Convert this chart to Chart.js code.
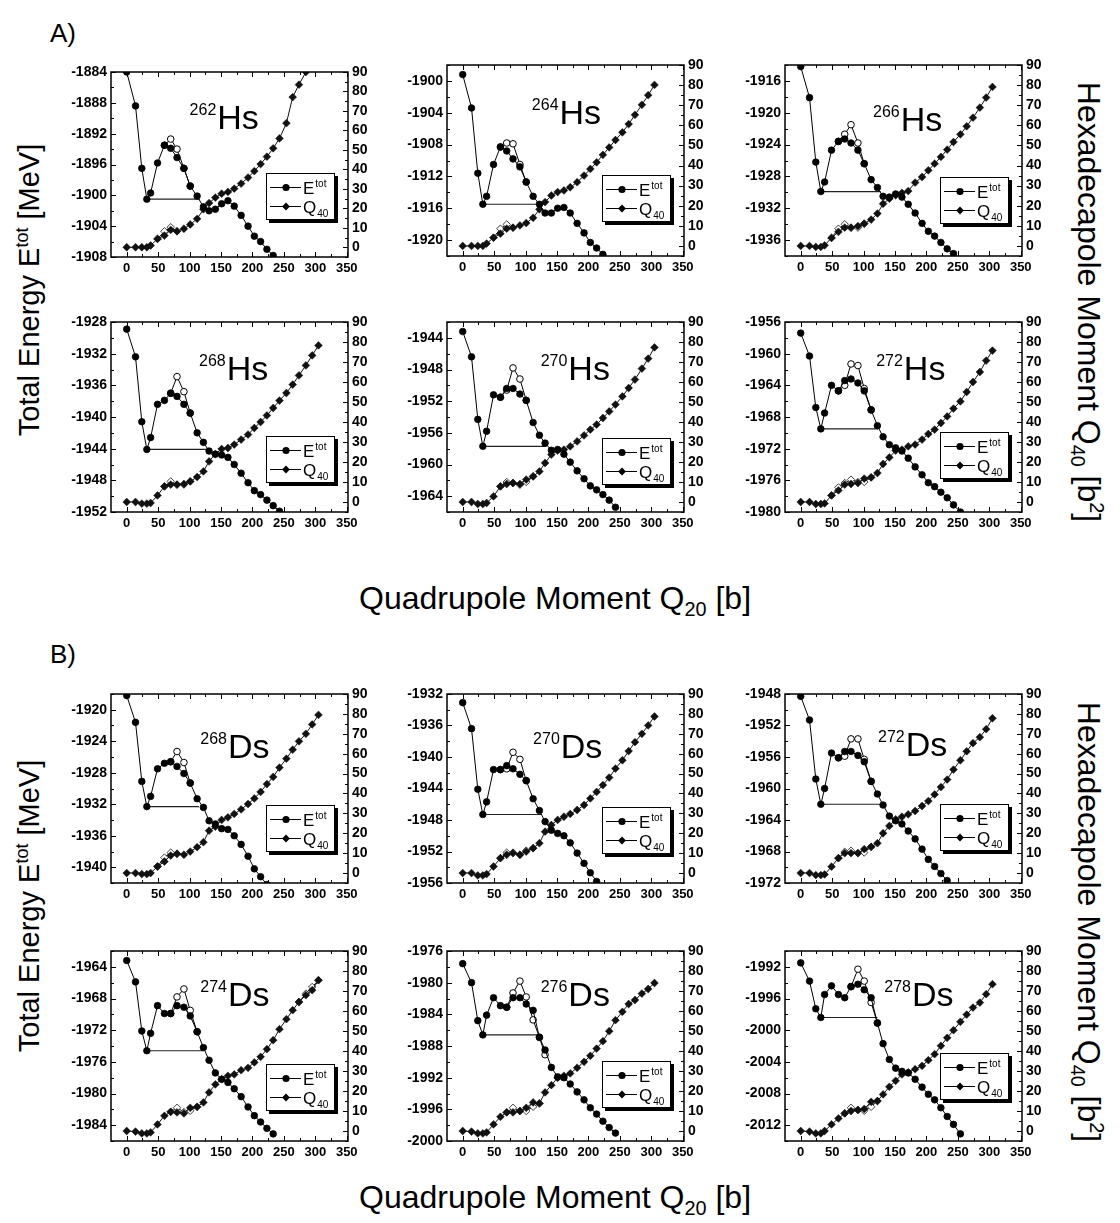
<!DOCTYPE html>
<html>
<head>
<meta charset="utf-8">
<title>Hs and Ds energy curves</title>
<script src="https://cdn.jsdelivr.net/npm/chart.js@4.4.1/dist/chart.umd.min.js"></script>
<style>
  html, body { margin: 0; padding: 0; background: #fff; }
  #page { position: relative; width: 1120px; height: 1223px; overflow: hidden; font-family: Arial, "Liberation Sans", Helvetica, sans-serif; color: #000; }
  #page canvas { position: absolute; }
  .t { position: absolute; white-space: nowrap; line-height: 1; }
  .vl { transform: translate(-50%, -50%) rotate(-90deg); font-size: 29px; }
  .vr { transform: translate(-50%, -50%) rotate(90deg); font-size: 32px; }
  .hc { transform: translateX(-50%); font-size: 32px; }
  sup, sub { font-size: 0.62em; line-height: 0; }
</style>
</head>
<body>
<div id="page">
  <div class="t" style="left:50px; top:20px; font-size:26px;">A)</div>
  <div class="t" style="left:50px; top:641px; font-size:26px;">B)</div>
  <div class="t vl" style="left:29px; top:290px;">Total Energy E<sup>tot</sup> [MeV]</div>
  <div class="t vl" style="left:29px; top:906px;">Total Energy E<sup>tot</sup> [MeV]</div>
  <div class="t vr" style="left:1089px; top:302px;">Hexadecapole Moment Q<sub>40</sub> [b<sup>2</sup>]</div>
  <div class="t vr" style="left:1089px; top:922px;">Hexadecapole Moment Q<sub>40</sub> [b<sup>2</sup>]</div>
  <div class="t hc" style="left:555px; top:582px;">Quadrupole Moment Q<sub>20</sub> [b]</div>
  <div class="t hc" style="left:555px; top:1181px;">Quadrupole Moment Q<sub>20</sub> [b]</div>
</div>
<script>
// quadrupole moment grid shared by all curves
const Q20 = [0, 14, 24, 32, 38, 49, 60, 70, 80, 91, 101, 112, 122, 131, 141, 151, 161, 171, 182, 193, 203, 213, 223, 233, 243, 254, 264, 274, 285, 295, 305];

const X_TICKS = [0, 50, 100, 150, 200, 250, 300, 350];
const Q40_TICKS = [0, 10, 20, 30, 40, 50, 60, 70, 80, 90];

const masses = ['262', '264', '266', '268', '270', '272', '268', '270', '272', '274', '276', '278'];
const elements = ['Hs', 'Hs', 'Hs', 'Hs', 'Hs', 'Hs', 'Ds', 'Ds', 'Ds', 'Ds', 'Ds', 'Ds'];

// total energy (filled circles), MeV
const E_Hs262 = [-1884.0, -1888.4, -1896.5, -1900.5, -1899.7, -1895.8, -1893.5, -1893.9, -1895.1, -1896.5, -1898.8, -1900.1, -1901.5, -1902.0, -1901.8, -1901.1, -1900.7, -1901.4, -1902.6, -1904.0, -1905.3, -1906.0, -1907.0, -1907.8];
const E_Hs264 = [-1899.2, -1903.4, -1911.6, -1915.5, -1914.5, -1910.5, -1908.3, -1908.8, -1909.8, -1910.8, -1912.7, -1914.5, -1915.5, -1916.6, -1916.6, -1916.0, -1915.9, -1916.6, -1917.9, -1919.1, -1920.3, -1921.0, -1921.8];
const E_Hs266 = [-1914.2, -1918.1, -1926.2, -1929.9, -1928.7, -1924.7, -1923.6, -1923.3, -1923.8, -1924.7, -1926.4, -1928.4, -1929.4, -1930.5, -1930.6, -1930.2, -1930.6, -1931.5, -1932.6, -1933.9, -1934.9, -1935.5, -1936.3, -1937.1, -1937.7];
const E_Hs268 = [-1928.9, -1932.4, -1940.6, -1944.1, -1942.6, -1938.4, -1937.9, -1937.0, -1937.4, -1938.4, -1939.5, -1942.0, -1943.2, -1944.3, -1944.7, -1944.8, -1945.1, -1946.0, -1947.1, -1948.3, -1949.3, -1949.8, -1950.5, -1951.2, -1951.9];
const E_Hs270 = [-1943.2, -1946.4, -1954.3, -1957.7, -1955.8, -1951.2, -1951.5, -1950.4, -1950.4, -1951.1, -1951.9, -1954.7, -1956.3, -1957.3, -1958.2, -1958.1, -1958.7, -1959.7, -1960.8, -1961.8, -1962.7, -1963.2, -1963.8, -1964.5, -1965.4];
const E_Hs272 = [-1957.4, -1960.3, -1966.8, -1969.5, -1967.5, -1964.0, -1964.7, -1963.4, -1963.2, -1963.7, -1964.7, -1967.1, -1969.1, -1970.5, -1971.5, -1971.9, -1972.3, -1973.2, -1974.3, -1975.3, -1976.3, -1976.8, -1977.5, -1978.2, -1979.1, -1980.0];
const E_Ds268 = [-1918.2, -1921.6, -1929.1, -1932.3, -1931.0, -1927.5, -1926.8, -1926.6, -1927.2, -1928.1, -1929.3, -1931.3, -1932.4, -1934.1, -1934.5, -1935.1, -1935.2, -1936.0, -1937.1, -1938.6, -1940.2, -1941.2, -1942.2];
const E_Ds270 = [-1933.1, -1936.4, -1944.1, -1947.3, -1945.7, -1941.6, -1941.6, -1941.1, -1941.5, -1942.2, -1943.0, -1945.3, -1946.8, -1948.2, -1949.3, -1949.7, -1950.0, -1950.9, -1952.2, -1953.5, -1954.7, -1955.8];
const E_Ds272 = [-1948.3, -1951.3, -1958.8, -1962.0, -1960.0, -1955.5, -1956.1, -1955.3, -1955.3, -1955.8, -1956.6, -1959.1, -1960.7, -1962.1, -1963.5, -1964.1, -1964.5, -1965.4, -1966.4, -1967.7, -1969.0, -1969.9, -1970.8, -1971.7];
const E_Ds274 = [-1963.2, -1965.9, -1972.1, -1974.6, -1972.4, -1968.9, -1969.9, -1969.9, -1968.9, -1969.1, -1970.2, -1972.2, -1974.2, -1975.8, -1977.4, -1978.2, -1978.6, -1979.4, -1980.4, -1981.7, -1982.8, -1983.6, -1984.4, -1985.1];
const E_Ds276 = [-1977.6, -1980.0, -1984.8, -1986.6, -1984.1, -1981.9, -1982.9, -1983.1, -1981.9, -1981.9, -1982.7, -1983.5, -1986.9, -1988.5, -1990.7, -1991.9, -1992.0, -1992.8, -1993.8, -1994.8, -1995.8, -1996.6, -1997.5, -1998.3, -1999.0];
const E_Ds278 = [-1991.5, -1993.8, -1997.3, -1998.4, -1995.5, -1994.4, -1995.5, -1995.9, -1994.5, -1994.2, -1994.9, -1995.9, -1999.1, -2001.7, -2003.7, -2004.8, -2005.2, -2005.4, -2006.2, -2007.2, -2008.1, -2008.8, -2009.8, -2010.9, -2011.9, -2013.1];

// total energy, second solution near the barrier (open circles): [grid index, MeV]
const EO_Hs262 = [[6, -1893.5], [7, -1892.7], [8, -1894.0], [9, -1896.5], [10, -1898.8]];
const EO_Hs264 = [[6, -1908.3], [7, -1907.8], [8, -1907.9], [9, -1910.5], [10, -1912.7]];
const EO_Hs266 = [[6, -1923.6], [7, -1922.7], [8, -1921.5], [9, -1923.8], [10, -1926.4]];
const EO_Hs268 = [[7, -1937.0], [8, -1934.9], [9, -1936.8], [10, -1939.5]];
const EO_Hs270 = [[6, -1951.5], [7, -1950.6], [8, -1947.8], [9, -1949.2], [10, -1951.9]];
const EO_Hs272 = [[6, -1964.7], [7, -1964.0], [8, -1961.3], [9, -1961.5], [10, -1964.4], [11, -1967.1]];
const EO_Ds268 = [[7, -1926.6], [8, -1925.3], [9, -1926.7], [10, -1929.3]];
const EO_Ds270 = [[6, -1941.6], [7, -1941.5], [8, -1939.4], [9, -1940.3], [10, -1943.0]];
const EO_Ds272 = [[6, -1956.1], [7, -1955.9], [8, -1953.7], [9, -1953.7], [10, -1956.3], [11, -1959.1]];
const EO_Ds274 = [[7, -1969.9], [8, -1967.8], [9, -1966.8], [10, -1969.5], [11, -1972.2]];
const EO_Ds276 = [[7, -1983.1], [8, -1981.3], [9, -1979.8], [10, -1981.8], [11, -1984.7], [12, -1986.9], [13, -1989.1]];
const EO_Ds278 = [[8, -1994.5], [9, -1992.3], [10, -1993.8], [11, -1996.5], [12, -1999.1]];

// hexadecapole moment (filled diamonds), b^2
const Q_Hs262 = [0, 0, 0, 0, 0.9, 4.3, 6.0, 8.9, 8.2, 9.5, 11.7, 14.6, 19.5, 22.7, 25.5, 27.5, 28.4, 30.1, 32.7, 35.8, 39.1, 42.7, 46.5, 50.8, 55.9, 63.7, 77.1, 83.5, 90.0];
const Q_Hs264 = [0, 0, 0, 0, 1.2, 4.1, 6.1, 8.6, 9.1, 10.2, 11.4, 14.0, 18.2, 21.8, 25.1, 26.8, 27.6, 29.2, 31.7, 35.0, 38.3, 41.6, 45.3, 49.0, 52.7, 56.5, 60.6, 65.2, 70.2, 75.0, 80.1];
const Q_Hs266 = [0, 0, -0.5, -0.5, 0.3, 4.0, 7.0, 9.1, 9.1, 9.9, 11.1, 13.1, 16.1, 21.0, 23.5, 25.2, 26.4, 27.3, 31.5, 34.3, 37.6, 40.9, 44.3, 47.9, 51.7, 55.5, 59.5, 63.8, 68.8, 73.8, 79.1];
const Q_Hs268 = [0, 0, -0.8, -0.8, -0.5, 3.3, 7.8, 8.7, 8.7, 9.0, 10.3, 12.5, 15.3, 20.3, 24.0, 26.5, 27.0, 28.7, 31.2, 33.7, 37.0, 40.0, 43.3, 47.0, 50.7, 54.5, 58.7, 63.3, 68.3, 73.3, 78.3];
const Q_Hs270 = [0, 0, -1.0, -1.0, -0.5, 2.8, 7.8, 9.0, 9.5, 9.0, 11.2, 12.8, 15.3, 19.5, 23.7, 25.7, 26.2, 27.8, 30.3, 33.3, 36.2, 38.7, 42.0, 45.3, 48.7, 52.8, 57.0, 61.2, 66.7, 71.7, 77.3];
const Q_Hs272 = [0, 0, -1.0, -1.0, -0.7, 3.3, 5.8, 8.7, 9.0, 9.5, 11.7, 12.3, 14.5, 19.0, 22.3, 25.7, 26.2, 27.8, 28.7, 31.2, 34.0, 36.2, 39.5, 42.8, 46.7, 50.3, 55.0, 60.0, 65.0, 70.7, 75.7];
const Q_Ds268 = [0, 0, -0.5, -0.5, 0, 3.3, 5.8, 8.8, 9.7, 9.2, 10.8, 13.0, 15.5, 21.3, 23.3, 26.7, 28.0, 29.7, 32.0, 34.7, 37.5, 40.8, 44.7, 48.3, 53.0, 57.5, 62.0, 66.2, 70.0, 74.7, 79.5];
const Q_Ds270 = [0, 0, -1.2, -1.2, -0.5, 3.3, 7.5, 9.2, 10.0, 9.2, 10.8, 12.5, 15.0, 20.8, 24.2, 26.7, 28.3, 29.7, 31.7, 34.2, 37.5, 40.8, 44.2, 48.0, 52.5, 56.7, 61.3, 65.8, 70.0, 74.2, 78.7];
const Q_Ds272 = [0, 0, -1.0, -1.0, -0.7, 3.2, 7.5, 10.0, 10.0, 10.0, 12.0, 13.2, 15.0, 20.0, 23.7, 27.0, 28.3, 29.5, 31.2, 33.7, 36.2, 39.5, 43.2, 47.0, 52.0, 56.7, 61.2, 65.3, 68.3, 72.3, 77.8];
const Q_Ds274 = [0, -0.3, -1.2, -1.2, -0.7, 3.3, 7.6, 9.6, 9.3, 8.8, 11.6, 12.1, 14.3, 19.3, 23.3, 25.9, 27.6, 28.3, 30.4, 31.6, 34.3, 37.1, 40.9, 45.4, 50.9, 55.9, 60.4, 64.5, 67.9, 70.4, 75.4];
const Q_Ds276 = [0, -0.3, -1.2, -1.2, -0.7, 3.3, 7.1, 9.3, 9.3, 10.0, 11.6, 14.3, 13.8, 19.3, 22.9, 26.6, 27.6, 28.8, 31.6, 34.6, 37.6, 41.2, 44.9, 49.9, 55.4, 59.6, 63.5, 65.5, 68.7, 71.0, 74.0];
const Q_Ds278 = [0, -0.3, -1.2, -1.2, 0, 3.3, 6.3, 8.8, 10.0, 10.5, 11.0, 14.6, 15.0, 18.3, 22.1, 25.1, 28.3, 29.3, 30.9, 32.6, 35.4, 38.4, 42.6, 46.6, 50.4, 54.6, 58.2, 61.7, 64.2, 68.4, 73.4];

// hexadecapole moment, second solution (open diamonds); null breaks the line
const QO_Hs262 = [[5, 4.3], [6, 8.2], [7, 10.3], [8, 8.2]];
const QO_Hs264 = [[5, 4.1], [6, 8.6], [7, 10.7], [8, 9.1]];
const QO_Hs266 = [[5, 4.0], [6, 8.6], [7, 10.8], [8, 9.1], [9, 9.1], [10, 11.1]];
const QO_Hs268 = [[6, 7.8], [7, 10.3], [8, 8.7], [9, 8.7], [10, 10.3]];
const QO_Hs270 = [[6, 7.8], [7, 10.0], [8, 9.5], [9, 8.6], [10, 10.0], [11, 12.8]];
const QO_Hs272 = [[5, 3.3], [6, 7.3], [7, 9.5], [8, 11.2], [9, 10.0], [10, 10.0], [11, 12.3]];
const QO_Ds268 = [[5, 3.3], [6, 7.8], [7, 10.3], [8, 9.7]];
const QO_Ds270 = [[6, 7.5], [7, 10.3], [8, 10.3], [9, 9.2], [10, 11.3], [11, 12.5]];
const QO_Ds272 = [[6, 7.5], [7, 10.7], [8, 11.2], [9, 10.0], [10, 10.3], [11, 13.2]];
const QO_Ds274 = [[7, 9.6], [8, 11.6], [9, 9.5], [10, 10.1], [11, 12.1], null, [27, 64.5], [28, 68.7], [29, 72.0], [30, 75.4]];
const QO_Ds276 = [[7, 9.3], [8, 11.6], [9, 10.0], [10, 10.0], [11, 12.1], [12, 13.8]];
const QO_Ds278 = [[7, 8.8], [8, 11.6], [9, 10.5], [10, 10.1], [11, 12.1], [12, 15.0]];

// fission barrier reference line: energy of the minimum and where it ends
const barrierE = [-1900.5, -1915.5, -1929.9, -1944.1, -1957.7, -1969.5, -1932.3, -1947.3, -1962.0, -1974.6, -1986.6, -1998.4];
const barrierEnd = [116, 117, 127, 126, 133, 123, 115, 125, 132, 121, 120, 122];

const series = [
  [E_Hs262, EO_Hs262, Q_Hs262, QO_Hs262],
  [E_Hs264, EO_Hs264, Q_Hs264, QO_Hs264],
  [E_Hs266, EO_Hs266, Q_Hs266, QO_Hs266],
  [E_Hs268, EO_Hs268, Q_Hs268, QO_Hs268],
  [E_Hs270, EO_Hs270, Q_Hs270, QO_Hs270],
  [E_Hs272, EO_Hs272, Q_Hs272, QO_Hs272],
  [E_Ds268, EO_Ds268, Q_Ds268, QO_Ds268],
  [E_Ds270, EO_Ds270, Q_Ds270, QO_Ds270],
  [E_Ds272, EO_Ds272, Q_Ds272, QO_Ds272],
  [E_Ds274, EO_Ds274, Q_Ds274, QO_Ds274],
  [E_Ds276, EO_Ds276, Q_Ds276, QO_Ds276],
  [E_Ds278, EO_Ds278, Q_Ds278, QO_Ds278]
];

// plot boxes on the page (px) and energy window of each panel
const layout = [
  { left: 111, top: 72, h: 185, ymin: -1908, ymax: -1884, lx: 100, ly: 0.31, gy: 0.675 },
  { left: 447, top: 65, h: 191, ymin: -1922, ymax: -1898, lx: 110, ly: 0.31, gy: 0.70 },
  { left: 785, top: 65, h: 191, ymin: -1938, ymax: -1914, lx: 115, ly: 0.345, gy: 0.71 },
  { left: 111, top: 322, h: 190, ymin: -1952, ymax: -1928, lx: 115, ly: 0.305, gy: 0.725 },
  { left: 447, top: 322, h: 190, ymin: -1966, ymax: -1942, lx: 124, ly: 0.305, gy: 0.733 },
  { left: 785, top: 322, h: 190, ymin: -1980, ymax: -1956, lx: 120, ly: 0.305, gy: 0.704 },
  { left: 111, top: 694, h: 189, ymin: -1942, ymax: -1918, lx: 117, ly: 0.34, gy: 0.71 },
  { left: 447, top: 694, h: 189, ymin: -1956, ymax: -1932, lx: 112, ly: 0.34, gy: 0.72 },
  { left: 785, top: 694, h: 189, ymin: -1972, ymax: -1948, lx: 123, ly: 0.33, gy: 0.706 },
  { left: 111, top: 951, h: 190, ymin: -1986, ymax: -1962, lx: 117, ly: 0.29, gy: 0.72 },
  { left: 447, top: 951, h: 190, ymin: -2000, ymax: -1976, lx: 124, ly: 0.29, gy: 0.705 },
  { left: 785, top: 951, h: 190, ymin: -2014, ymax: -1990, lx: 133, ly: 0.29, gy: 0.66 }
];
const PLOT_W = 237, AXL = 46, AXR = 36, AXB = 24, PADT = 10;
const FONT = 'Arial, "Liberation Sans", Helvetica, sans-serif';

function steps(from, to, step) {
  const out = [];
  for (let v = from; v <= to + 1e-9; v += step) out.push(v);
  return out;
}

function toPoints(arr) {
  return arr.map((v, i) => ({ x: Q20[i], y: v }));
}

function toOpenPoints(arr) {
  return arr.map((p, k) => p ? { x: Q20[p[0]], y: p[1] } : { x: Q20[arr[k + 1][0]], y: null });
}

function drawTicks(ctx, a, scale, values, side, len) {
  values.forEach(v => {
    const p = Math.round(scale.getPixelForValue(v)) + 0.5;
    ctx.beginPath();
    if (side === 'bottom') { ctx.moveTo(p, a.bottom); ctx.lineTo(p, a.bottom - len); }
    if (side === 'top') { ctx.moveTo(p, a.top); ctx.lineTo(p, a.top + len); }
    if (side === 'left') { ctx.moveTo(a.left, p); ctx.lineTo(a.left + len, p); }
    if (side === 'right') { ctx.moveTo(a.right, p); ctx.lineTo(a.right - len, p); }
    ctx.stroke();
  });
}

function drawMarker(ctx, kind, x, y) {
  ctx.beginPath();
  if (kind === 'circle') {
    ctx.arc(x, y, 3.6, 0, Math.PI * 2);
  } else {
    ctx.moveTo(x, y - 3.9); ctx.lineTo(x + 3.9, y); ctx.lineTo(x, y + 3.9); ctx.lineTo(x - 3.9, y);
    ctx.closePath();
  }
  ctx.fill();
}

const decor = {
  id: 'decor',
  afterDatasetsDraw(chart, args, opt) {
    const { ctx, chartArea: a } = chart;
    const { x, y, y2 } = chart.scales;
    ctx.save();
    ctx.strokeStyle = '#000';
    ctx.lineWidth = 1;

    // inward ticks on all four sides
    ['bottom', 'top'].forEach(side => {
      drawTicks(ctx, a, x, steps(0, 350, 50), side, 5);
      drawTicks(ctx, a, x, steps(25, 325, 50), side, 3);
    });
    const e4 = steps(Math.ceil(opt.ymin / 4) * 4, opt.ymax, 4);
    const e2 = steps(Math.ceil(opt.ymin / 2) * 2, opt.ymax, 2).filter(v => v % 4 !== 0);
    drawTicks(ctx, a, y, e4, 'left', 5);
    drawTicks(ctx, a, y, e2, 'left', 3);
    drawTicks(ctx, a, y2, steps(0, 90, 10), 'right', 5);
    drawTicks(ctx, a, y2, steps(-5, 85, 10), 'right', 3);

    ctx.lineWidth = 1.5;
    ctx.strokeRect(a.left, a.top, a.width, a.height);

    // nucleus label
    ctx.fillStyle = '#000';
    ctx.textAlign = 'left';
    ctx.textBaseline = 'alphabetic';
    const nx = x.getPixelForValue(opt.labelX);
    const ny = a.top + opt.labelY * a.height;
    ctx.font = '16px ' + FONT;
    ctx.fillText(opt.mass, nx, ny - 14);
    const mw = ctx.measureText(opt.mass).width;
    ctx.font = '34px ' + FONT;
    ctx.fillText(opt.element, nx + mw + 1, ny);

    // legend box with drop shadow
    const lw = 69, lh = 47;
    const lx = Math.round(x.getPixelForValue(222));
    const ly = Math.round(a.top + opt.legendY * a.height - lh / 2);
    ctx.fillStyle = '#000';
    ctx.fillRect(lx + 3, ly + 3, lw, lh);
    ctx.fillStyle = '#fff';
    ctx.fillRect(lx, ly, lw, lh);
    ctx.lineWidth = 1;
    ctx.strokeRect(lx + 0.5, ly + 0.5, lw - 1, lh - 1);
    const rows = [
      { dy: 14.5, kind: 'circle', main: 'E', small: 'tot', shift: -7 },
      { dy: 33.5, kind: 'diamond', main: 'Q', small: '40', shift: 4 }
    ];
    rows.forEach(r => {
      const ry = ly + r.dy;
      ctx.strokeStyle = '#000';
      ctx.beginPath();
      ctx.moveTo(lx + 4, ry); ctx.lineTo(lx + 35, ry);
      ctx.stroke();
      ctx.fillStyle = '#000';
      drawMarker(ctx, r.kind, lx + 20, ry);
      ctx.font = '17px ' + FONT;
      ctx.fillText(r.main, lx + 37, ry + 6);
      const w = ctx.measureText(r.main).width;
      ctx.font = '10px ' + FONT;
      ctx.fillText(r.small, lx + 37 + w + 1, ry + 6 + r.shift);
    });
    ctx.restore();
  }
};

const page = document.getElementById('page');
const xFont = { family: FONT, weight: 'bold', size: 13 };
const yFont = { family: FONT, weight: 'bold', size: 14 };

layout.forEach((p, i) => {
  const [E, EO, Q, QO] = series[i];
  const cv = document.createElement('canvas');
  const W = AXL + PLOT_W + AXR, H = PADT + p.h + AXB;
  cv.width = W; cv.height = H;
  cv.style.left = (p.left - AXL) + 'px';
  cv.style.top = (p.top - PADT) + 'px';
  cv.style.width = W + 'px';
  cv.style.height = H + 'px';
  page.appendChild(cv);

  const eTicks = steps(Math.ceil(p.ymin / 4) * 4, p.ymax, 4);

  new Chart(cv, {
    type: 'line',
    data: {
      datasets: [
        { data: toPoints(E), yAxisID: 'y', borderColor: '#000', borderWidth: 1, pointStyle: 'circle', pointRadius: 3.3, pointBorderWidth: 0.8, pointBackgroundColor: '#000', pointBorderColor: '#000', order: 0 },
        { data: toPoints(Q), yAxisID: 'y2', borderColor: '#111', borderWidth: 1, pointStyle: 'rectRot', pointRadius: 3.9, pointBorderWidth: 0.5, pointBackgroundColor: '#111', pointBorderColor: '#111', order: 1 },
        { data: toOpenPoints(EO), yAxisID: 'y', borderColor: '#000', borderWidth: 1, pointStyle: 'circle', pointRadius: 3.3, pointBorderWidth: 1, pointBackgroundColor: '#fff', pointBorderColor: '#000', order: 2 },
        { data: toOpenPoints(QO), yAxisID: 'y2', borderColor: '#111', borderWidth: 1, pointStyle: 'rectRot', pointRadius: 3.7, pointBorderWidth: 0.8, pointBackgroundColor: '#fff', pointBorderColor: '#111', order: 3 },
        { data: [{ x: Q20[3], y: barrierE[i] }, { x: barrierEnd[i], y: barrierE[i] }], yAxisID: 'y', borderColor: '#222', borderWidth: 1.2, pointRadius: 0, order: 4 }
      ]
    },
    options: {
      responsive: false,
      animation: false,
      devicePixelRatio: 1,
      layout: { padding: { top: PADT, left: 0, right: 0, bottom: 0 } },
      plugins: {
        legend: { display: false },
        tooltip: { enabled: false },
        decor: { ymin: p.ymin, ymax: p.ymax, mass: masses[i], element: elements[i], labelX: p.lx, labelY: p.ly, legendY: p.gy }
      },
      scales: {
        x: {
          type: 'linear', position: 'bottom', min: -25, max: 352,
          grid: { display: false, drawTicks: false }, border: { display: false },
          afterBuildTicks: s => { s.ticks = X_TICKS.map(v => ({ value: v })); },
          afterFit: s => { s.height = AXB; s.paddingLeft = 0; s.paddingRight = 0; },
          ticks: { font: xFont, color: '#000', padding: 4, maxRotation: 0, autoSkip: false, callback: v => String(v) }
        },
        y: {
          type: 'linear', position: 'left', min: p.ymin, max: p.ymax,
          grid: { display: false, drawTicks: false }, border: { display: false },
          afterBuildTicks: s => { s.ticks = eTicks.map(v => ({ value: v })); },
          afterFit: s => { s.width = AXL; s.paddingTop = 0; s.paddingBottom = 0; },
          ticks: { font: yFont, color: '#000', padding: 4, autoSkip: false, callback: v => String(v) }
        },
        y2: {
          type: 'linear', position: 'right', min: -5, max: 90,
          grid: { display: false, drawTicks: false }, border: { display: false },
          afterBuildTicks: s => { s.ticks = Q40_TICKS.map(v => ({ value: v })); },
          afterFit: s => { s.width = AXR; s.paddingTop = 0; s.paddingBottom = 0; },
          ticks: { font: yFont, color: '#000', padding: 4, autoSkip: false, callback: v => String(v) }
        }
      }
    },
    plugins: [decor]
  });
});
</script>
</body>
</html>
